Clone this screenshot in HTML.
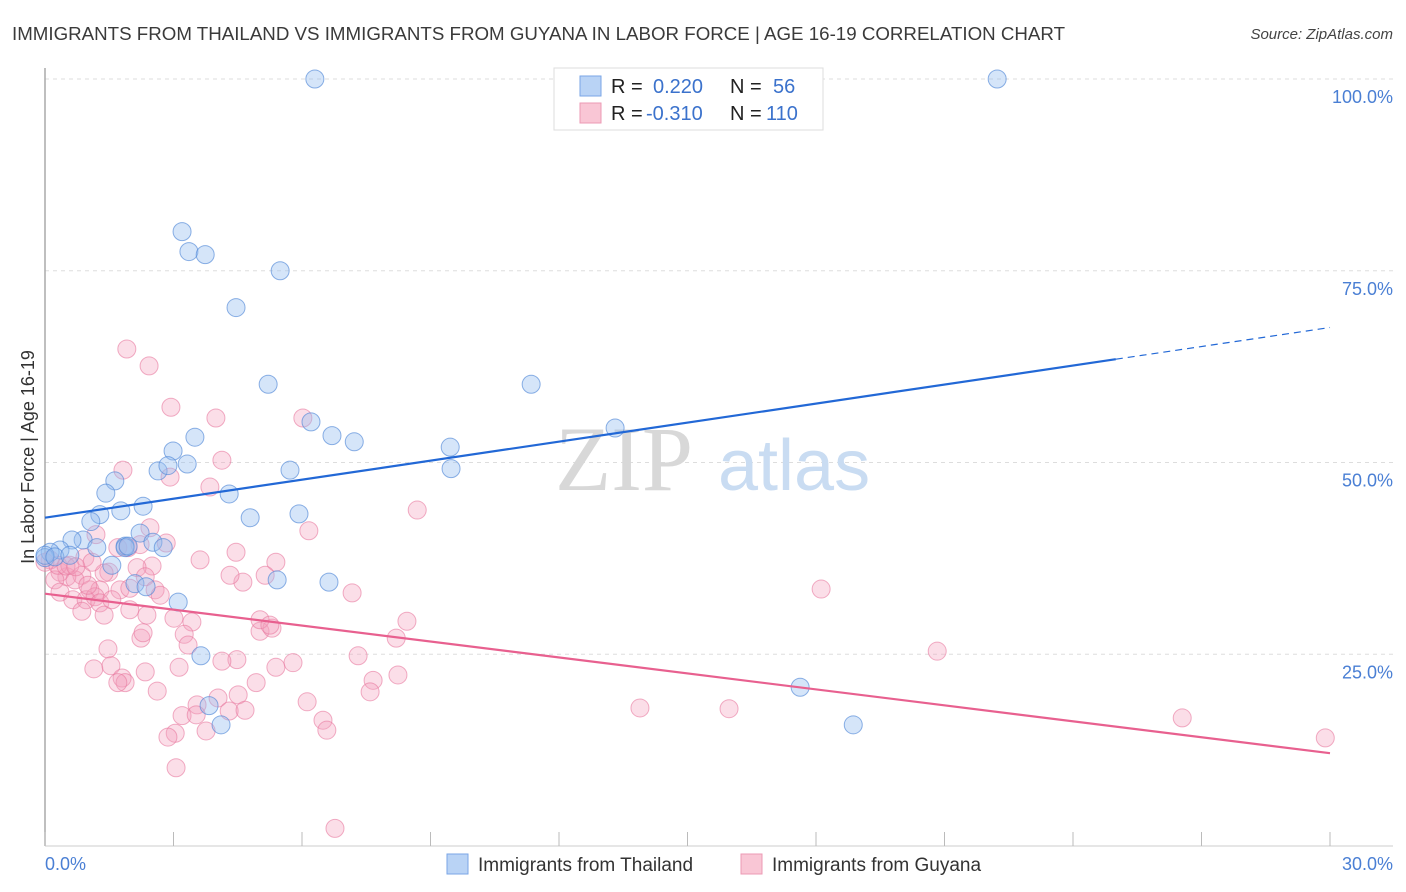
<!DOCTYPE html>
<html><head><meta charset="utf-8"><style>
body{margin:0;background:#fff;width:1406px;height:892px;overflow:hidden;font-family:"Liberation Sans",sans-serif}
svg{display:block}
</style></head><body>
<svg id="chart" width="1406" height="892">
<text x="12" y="40" font-size="18" fill="#3a3a3a" textLength="1053" lengthAdjust="spacingAndGlyphs">IMMIGRANTS FROM THAILAND VS IMMIGRANTS FROM GUYANA IN LABOR FORCE | AGE 16-19 CORRELATION CHART</text>
<text x="1393" y="39" font-size="15" fill="#444" font-style="italic" text-anchor="end">Source: ZipAtlas.com</text>
<g id="grid"></g>
<g><text x="555" y="490" font-size="92" font-family="Liberation Serif,serif" fill="#d8d8d8">ZIP</text><text x="718" y="490" font-size="72" fill="#c9dcf2">atlas</text></g>
<line x1="45" y1="68" x2="45" y2="846" stroke="#aaa" stroke-width="1.5"/>
<line x1="45" y1="846" x2="1393" y2="846" stroke="#ccc" stroke-width="1"/>
<g id="xticks"></g>
<g id="ylabels"></g>
<text transform="translate(34,457) rotate(-90)" font-size="18" fill="#333" text-anchor="middle">In Labor Force | Age 16-19</text>
<text x="45" y="870" font-size="18" fill="#4a7fd4">0.0%</text>
<text x="1393" y="870" font-size="18" fill="#4a7fd4" text-anchor="end">30.0%</text>
<g id="pink"></g>
<g id="blue"></g>
<g id="lines"></g>
<g>
<rect x="554" y="68" width="269" height="62" fill="#fff" stroke="#ddd"/>
<rect x="580" y="76" width="21" height="20" fill="#b9d3f5" stroke="#7aa6e6"/>
<rect x="580" y="103" width="21" height="20" fill="#f9c6d5" stroke="#ec9ab4"/>
<text x="611" y="93" font-size="20" fill="#222">R = </text><text x="653" y="93" font-size="20" fill="#3b72cc">0.220</text>
<text x="730" y="93" font-size="20" fill="#222">N = </text><text x="773" y="93" font-size="20" fill="#3b72cc">56</text>
<text x="611" y="120" font-size="20" fill="#222">R = </text><text x="646" y="120" font-size="20" fill="#3b72cc">-0.310</text>
<text x="730" y="120" font-size="20" fill="#222">N = </text><text x="766" y="120" font-size="20" fill="#3b72cc">110</text>
</g>
<g>
<rect x="447" y="854" width="21" height="20" fill="#b9d3f5" stroke="#7aa6e6"/>
<text x="478" y="871" font-size="19" fill="#333">Immigrants from Thailand</text>
<rect x="741" y="854" width="21" height="20" fill="#f9c6d5" stroke="#ec9ab4"/>
<text x="772" y="871" font-size="19" fill="#333">Immigrants from Guyana</text>
</g>
</svg>
<script>
const yTicks=[25,50,75,100];
const yTickLabels=["25.0%","50.0%","75.0%","100.0%"];
const xTicks=[0,3,6,9,12,15,18,21,24,27,30];
const thailandX=[6.30,22.23,3.20,3.36,3.74,5.49,4.46,5.21,11.35,13.31,6.21,6.70,7.22,3.50,2.99,9.46,2.64,2.87,3.32,5.72,9.48,1.63,1.42,4.30,2.29,1.77,5.93,1.28,4.79,1.07,2.22,2.52,2.76,1.87,0.89,0.63,1.21,0.35,0.12,0.0,0.0,0.23,1.56,2.10,2.36,5.42,6.63,3.11,3.64,3.83,4.11,17.63,18.87,1.87,1.94,0.58];
const thailandY=[100,100,80.1,77.5,77.1,75.0,70.2,60.2,60.2,54.5,55.3,53.5,52.7,53.3,51.5,52.0,48.9,49.6,49.8,49.0,49.2,47.6,46.0,45.9,44.3,43.7,43.3,43.2,42.8,42.3,40.8,39.6,38.9,39.1,39.9,39.9,38.9,38.6,38.3,37.6,37.9,37.7,36.6,34.2,33.8,34.7,34.4,31.8,24.8,18.3,15.8,20.7,15.8,38.9,39.1,37.9];
const guyanaX=[1.91,2.43,2.94,3.99,6.02,4.13,2.92,1.82,3.85,8.69,2.45,6.16,1.19,4.46,1.70,1.94,5.39,5.14,4.62,2.50,2.15,1.49,1.38,0.86,0.51,0.35,0.23,0.70,1.05,1.28,1.75,1.98,0.35,0.65,0.96,1.17,1.28,0.86,1.38,1.98,2.38,3.01,3.43,7.17,18.12,8.45,5.02,5.30,2.24,2.29,3.25,3.34,8.20,1.47,7.31,20.83,4.48,5.79,4.13,3.13,2.34,5.39,1.14,1.54,7.66,8.24,1.80,1.87,1.70,4.93,2.62,4.51,4.04,7.59,6.12,13.89,15.97,26.55,3.55,4.30,4.67,3.20,3.53,6.49,6.58,3.04,2.87,3.76,3.06,6.77,29.89,0.12,0.0,0.30,0.58,0.49,0.93,1.10,1.56,0.72,1.00,2.22,2.34,2.57,2.83,5.02,5.25,2.69,3.62,4.32];
const guyanaY=[64.8,62.6,57.2,55.8,55.8,50.3,48.1,49.0,46.8,43.8,41.5,41.1,40.6,38.3,38.9,38.9,37.0,35.3,34.4,36.5,36.3,35.7,35.6,35.3,35.1,35.7,34.7,34.7,33.4,33.4,33.4,33.6,33.1,32.1,32.1,32.5,31.7,30.6,30.1,30.8,30.1,29.7,29.2,33.0,33.5,29.3,28.0,28.4,27.1,27.8,27.6,26.2,27.1,25.7,24.8,25.4,24.3,23.9,24.1,23.3,22.7,23.3,23.1,23.5,21.6,22.3,21.9,21.3,21.3,21.3,20.2,19.7,19.3,20.1,18.8,18.0,17.9,16.7,18.4,17.6,17.7,17.0,17.1,16.4,15.1,14.7,14.2,15.0,10.2,2.3,14.1,37.3,37.0,36.6,36.6,36.5,37.6,37.0,32.1,36.4,34.0,39.3,35.1,33.4,39.5,29.5,28.8,32.7,37.3,35.3];
const thailandTrend=[42.8,67.6];
const guyanaTrend=[32.9,12.1];
const trendSolidEnd=25;

const NS="http://www.w3.org/2000/svg";
const sx=v=>45+v/30*1285;
const sy=v=>846-v/100*767;
function mk(parent,tag,attrs){const e=document.createElementNS(NS,tag);for(const k in attrs)e.setAttribute(k,attrs[k]);document.getElementById(parent).appendChild(e);return e;}

yTicks.forEach((t,i)=>{
  const g=mk('grid','line',{x1:45,x2:1393,y1:sy(t),y2:sy(t),stroke:'#ddd','stroke-dasharray':'4,4'});
  
  
  const l=mk('ylabels','text',{x:1393,y:sy(t)+24,'font-size':18,fill:'#4a7fd4','text-anchor':'end'});
  l.textContent=yTickLabels[i];
  
  
});
xTicks.forEach(t=>{
  const l=mk('xticks','line',{x1:sx(t),x2:sx(t),y1:832,y2:846,stroke:'#bbb'});
  
  
});
guyanaX.forEach((x,i)=>{
  const c=mk('pink','circle',{cx:sx(x),cy:sy(guyanaY[i]),r:9,fill:'rgba(243,160,188,0.35)',stroke:'rgba(232,120,158,0.6)','stroke-width':1});
  
  
});
thailandX.forEach((x,i)=>{
  const c=mk('blue','circle',{cx:sx(x),cy:sy(thailandY[i]),r:9,fill:'rgba(150,190,240,0.4)',stroke:'rgba(80,135,215,0.65)','stroke-width':1});
  
  
});
const by=x=>thailandTrend[0]+(thailandTrend[1]-thailandTrend[0])*x/30;
let l1=mk('lines','line',{x1:sx(0),y1:sy(by(0)),x2:sx(trendSolidEnd),y2:sy(by(trendSolidEnd)),stroke:'#2268d6','stroke-width':2.2});


let l2=mk('lines','line',{x1:sx(trendSolidEnd),y1:sy(by(trendSolidEnd)),x2:sx(30),y2:sy(by(30)),stroke:'#2268d6','stroke-width':1.2,'stroke-dasharray':'7,5'});


let l3=mk('lines','line',{x1:sx(0),y1:sy(guyanaTrend[0]),x2:sx(30),y2:sy(guyanaTrend[1]),stroke:'#e8608f','stroke-width':2.2});


</script>
</body></html>
